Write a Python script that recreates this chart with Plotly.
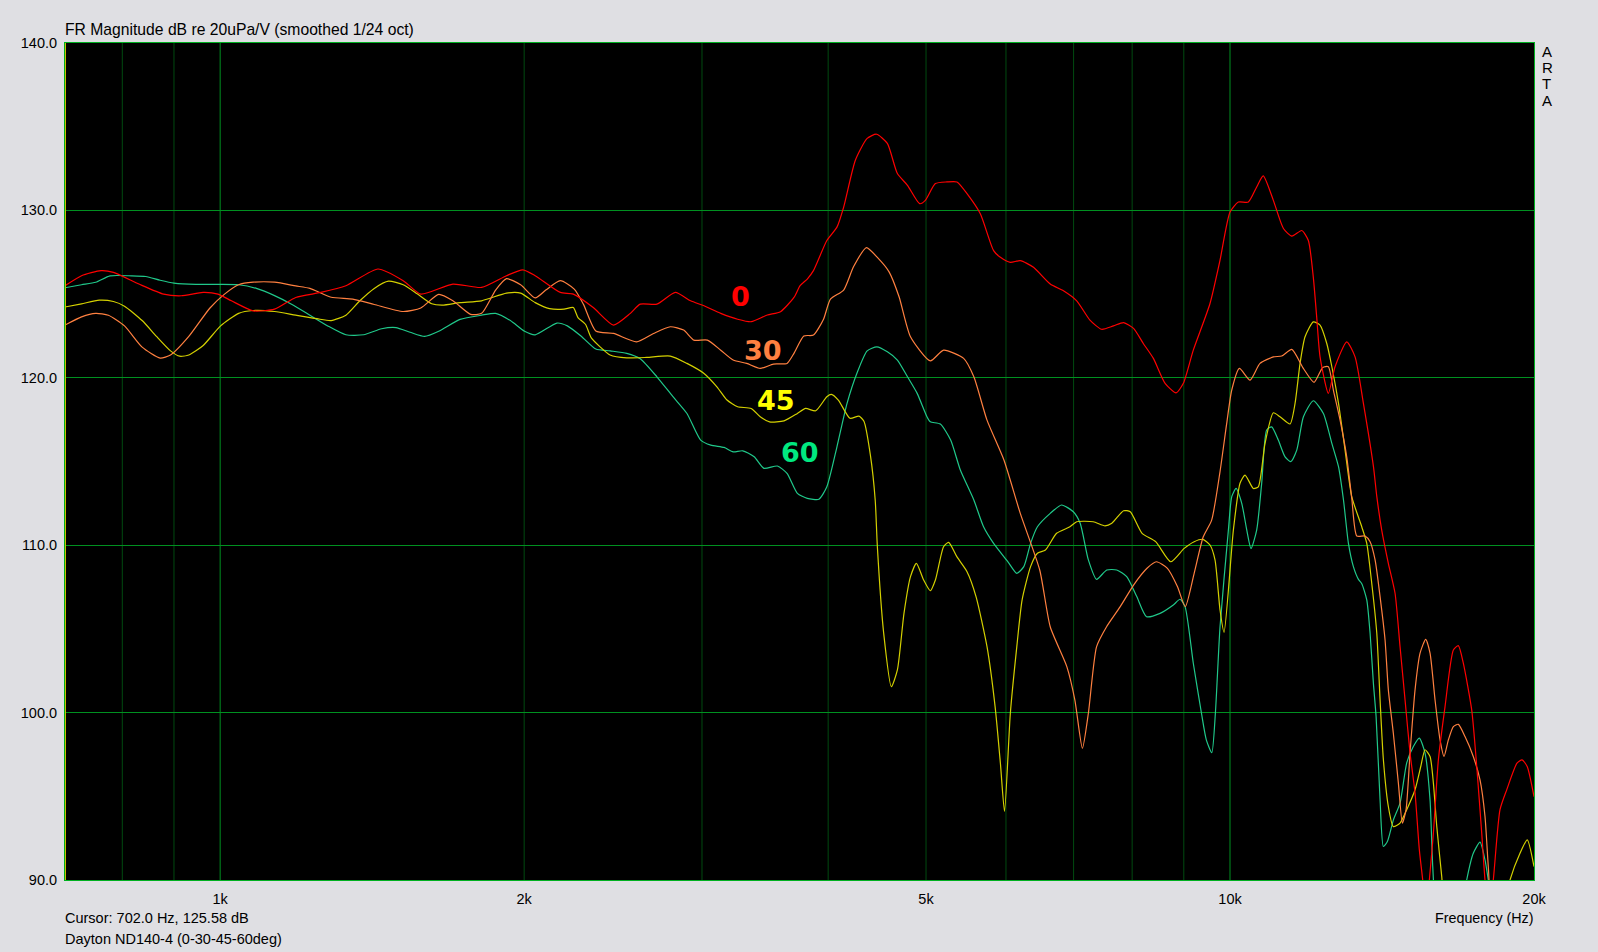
import numpy as np
import plotly.graph_objects as go

# ---------------- data (Hz, dB) ----------------
red_f = [702,729,762,784,831,879,915,962,995,1026,1078,1132,1188,1258,1332,1433,1518,1580,1700,1815,1921,1994,2051,2172,2237,2341,2452,2548,2606,2707,2823,2923,3014,3131,3254,3356,3482,3588,3700,3752,3814,3868,3988,4081,4144,4256,4372,4467,4578,4684,4793,4928,4992,5108,5245,5366,5490,5659,5833,5924,6060,6199,6388,6637,6840,7050,7266,7461,7667,7845,8026,8206,8397,8624,8843,8991,9197,9554,9775,10000,10192,10427,10627,10787,11039,11295,11514,11777,11956,12092,12185,12279,12514,12706,13049,13300,13555,13869,13976,14133,14348,14569,14736,14905,15076,15249,15399,15518,15636,15754,15900,16082,16328,16641,16831,17023,17352,17552,17753,17886,18050,18227,18508,18797,19239,19464,19692,20000]
red_db = [125.5,126.1,126.4,126.3,125.6,125.0,124.9,125.1,125.0,124.6,124.0,124.1,124.8,125.1,125.5,126.5,125.8,125.0,125.6,125.4,126.1,126.45,126.1,125.1,125.0,124.2,123.15,123.85,124.4,124.4,125.1,124.6,124.3,123.85,123.5,123.35,123.75,123.95,124.8,125.5,125.9,126.4,128.2,129.0,130.2,133.0,134.3,134.55,134.0,132.2,131.5,130.4,130.6,131.6,131.7,131.7,131.0,129.8,127.6,127.2,126.9,127.0,126.6,125.6,125.2,124.6,123.45,122.9,123.1,123.3,122.95,122.05,121.16,119.67,119.1,119.67,121.65,124.44,127.03,129.9,130.5,130.5,131.4,132.06,130.6,128.92,128.46,128.8,128.2,126.0,123.64,121.25,119.07,120.66,122.15,121.25,118.47,114.69,112.9,110.9,108.92,107.13,103.94,100.76,97.58,95.19,91.8,90.0,88.0,90.0,92.8,97.18,100.36,103.74,104.0,102.95,100.16,96.78,92.8,90.0,88.0,90.0,94.2,95.4,96.98,97.18,96.78,94.98]

orange_f = [702,729,753,775,804,837,872,893,931,977,1010,1043,1078,1132,1188,1227,1288,1353,1421,1518,1580,1646,1700,1770,1815,1874,1921,1984,2051,2101,2172,2242,2289,2355,2452,2584,2686,2791,2877,2945,3037,3131,3221,3322,3426,3531,3642,3700,3784,3868,3958,4021,4144,4238,4365,4470,4596,4702,4826,5049,5204,5448,5576,5746,5972,6199,6480,6637,6893,7020,7142,7240,7377,7547,7786,8026,8276,8455,8670,8872,9030,9215,9408,9590,9775,9925,10040,10216,10467,10708,11039,11251,11514,11820,12112,12355,12514,12658,12853,13049,13200,13353,13607,13763,13921,14080,14241,14348,14512,14680,14815,14939,15076,15249,15424,15625,15779,15960,16143,16291,16453,16641,16831,17089,17414,17684,17886,18021,18173,19000,20000]
orange_db = [123.15,123.64,123.85,123.74,123.1,121.83,121.18,121.36,122.47,124.17,125.0,125.56,125.71,125.71,125.49,125.34,124.81,124.7,124.38,123.96,124.17,124.98,124.6,123.79,123.85,125.24,125.92,125.56,124.77,125.24,125.8,125.3,124.4,122.8,122.65,122.15,122.65,123.05,122.85,122.25,122.25,121.65,121.06,120.86,120.56,120.82,120.86,121.46,122.5,122.55,123.5,124.7,125.24,126.63,127.78,127.22,126.33,124.84,122.45,121.01,121.65,121.16,120.06,117.47,115.09,111.9,108.52,105.13,102.75,100.76,97.87,99.96,103.94,105.13,106.33,107.62,108.62,109.01,108.62,107.52,106.33,108.32,110.5,111.5,114.4,117.28,119.27,120.56,119.86,120.86,121.25,121.3,121.7,120.56,119.73,120.62,120.66,119.27,117.47,115.28,112.8,110.55,110.55,110.21,109.12,106.93,104.34,101.36,98.77,95.79,93.4,94.2,97.58,101.36,103.55,104.38,103.55,100.76,98.37,97.38,98.37,99.16,99.3,98.57,97.38,95.98,93.79,90.8,88.5,87.0,87.0]

yellow_f = [702,729,759,784,804,837,865,893,912,931,962,1001,1043,1078,1132,1188,1247,1288,1332,1375,1421,1468,1518,1567,1620,1660,1728,1815,1921,1984,2051,2119,2190,2237,2261,2300,2330,2378,2433,2527,2645,2791,2899,3014,3104,3176,3254,3356,3426,3500,3617,3729,3799,3888,3988,4029,4094,4204,4291,4340,4404,4453,4475,4540,4620,4684,4755,4826,4892,4973,5049,5108,5204,5265,5366,5490,5604,5746,5853,5924,5980,6060,6150,6225,6346,6446,6565,6734,6942,7050,7321,7520,7638,7845,7966,8183,8441,8735,9008,9215,9399,9554,9664,9775,9865,10077,10231,10349,10546,10667,10831,11039,11208,11467,11599,11732,11866,12092,12279,12469,12614,12807,13000,13199,13504,13659,13815,13975,14080,14187,14348,14512,14736,14962,15249,15449,15600,15779,15900,16024,16206,16328,17500,18700,18935,19371,19695,20000]
yellow_db = [124.23,124.42,124.64,124.56,124.28,123.42,122.47,121.61,121.29,121.36,121.93,123.1,123.85,124.02,123.96,123.74,123.53,123.42,123.74,124.6,125.34,125.77,125.56,125.02,124.42,124.34,124.49,124.6,125.06,125.06,124.49,124.13,124.1,124.2,123.6,123.2,122.4,121.85,121.36,121.19,121.22,121.3,120.86,120.26,119.46,118.67,118.27,118.17,117.67,117.37,117.43,117.87,118.17,118.03,118.87,119.01,118.67,117.58,117.71,117.4,115.4,112.7,109.9,104.74,101.55,102.55,105.93,108.12,108.92,107.92,107.28,107.92,109.91,110.17,109.3,108.42,106.93,103.94,100.36,96.98,94.1,99.96,103.94,106.73,108.72,109.52,109.71,110.71,111.1,111.4,111.4,111.16,111.31,112.06,112.0,110.71,110.21,109.01,109.81,110.21,110.35,110.01,109.12,106.13,104.8,110.9,113.7,114.19,113.39,113.49,116.08,117.91,117.67,117.24,118.47,120.86,122.45,123.34,123.15,122.05,120.66,118.47,115.68,112.9,111.1,110.11,107.73,104.74,100.76,97.18,94.39,93.19,93.4,94.2,95.39,96.78,97.78,97.38,95.79,93.19,90.2,88.5,87.0,88.5,90.0,91.6,92.4,90.8]

green_f = [702,729,753,778,817,844,872,900,946,995,1043,1086,1132,1178,1227,1278,1332,1387,1445,1493,1542,1594,1646,1728,1815,1874,1938,2002,2051,2155,2207,2279,2355,2433,2527,2606,2707,2808,2899,2991,3061,3155,3221,3292,3379,3455,3563,3642,3729,3814,3916,3988,4081,4176,4273,4372,4470,4578,4684,4793,4900,5011,5049,5166,5289,5407,5576,5701,5833,6027,6150,6249,6346,6446,6637,6810,6996,7106,7240,7377,7550,7724,7902,8085,8267,8526,8787,8923,9026,9197,9370,9474,9593,9672,9775,9963,10040,10139,10271,10390,10490,10627,10749,10872,10997,11164,11338,11486,11644,11822,12092,12373,12614,12807,12953,13100,13249,13402,13505,13659,13763,13867,13953,14080,14187,14317,14512,14736,14962,15190,15400,15600,15779,15877,16000,16600,17000,17154,17414,17684,17886,18021,18173,20000]
green_db = [125.38,125.56,125.71,126.09,126.09,126.05,125.83,125.66,125.58,125.58,125.56,125.34,124.91,124.38,123.74,123.1,122.57,122.57,122.93,123.0,122.72,122.47,122.78,123.49,123.74,123.85,123.42,122.78,122.57,123.27,123.1,122.47,121.72,121.61,121.46,121.14,120.06,118.87,117.87,116.28,115.98,115.84,115.58,115.64,115.28,114.59,114.73,114.29,113.1,112.8,112.74,113.49,115.88,118.47,120.3,121.61,121.85,121.55,121.06,120.06,119.07,117.67,117.37,117.24,116.28,114.49,112.7,111.1,110.11,109.01,108.32,108.72,110.11,111.1,111.9,112.4,112.0,111.31,109.12,107.96,108.52,108.52,108.12,106.93,105.73,105.93,106.43,106.77,106.33,102.95,99.96,98.37,97.61,99.96,105.13,110.9,112.9,113.39,112.5,110.9,109.8,110.9,113.7,116.88,117.07,116.28,115.28,114.99,115.68,117.67,118.63,117.87,116.08,114.69,112.7,110.11,108.72,107.96,107.7,106.73,104.74,101.76,99.76,94.79,92.0,92.3,93.58,94.59,97.0,97.97,98.47,97.58,94.79,90.8,88.5,87.0,88.5,90.0,91.6,92.26,91.2,90.0,88.5,87.0]

angle_labels = ["0", "30", "45", "60"]
label_f = [3272, 3450, 3552, 3752]
label_db = [124.84, 121.65, 118.63, 115.52]

x_tick_vals = [1000, 2000, 5000, 10000, 20000]
x_tick_text = ["1k", "2k", "5k", "10k", "20k"]
grid_dark_f = [800, 900, 2000, 3000, 4000, 5000, 6000, 7000, 8000, 9000]
grid_bright_f = [1000, 10000]
cursor_f = 702.0
brand_letters = ["A", "R", "T", "A"]

# ---------------- styling ----------------
BG = "#DFDFE3"
FONT = "Liberation Sans, Arial, sans-serif"
line_colors = ["#FF0000", "#FF8040", "#D4D000", "#20C88A"]
label_colors = ["#FF0000", "#FF8040", "#FFFF00", "#00E880"]

fig = go.Figure()
series = [(green_f, green_db, 3), (yellow_f, yellow_db, 2), (orange_f, orange_db, 1), (red_f, red_db, 0)]
for f, d, i in series:
    fig.add_trace(go.Scatter(x=f, y=d, mode="lines",
                             line=dict(color=line_colors[i], width=1.2, shape="spline", smoothing=0.6),
                             hoverinfo="skip", showlegend=False))

shapes = []
for g in grid_dark_f:
    shapes.append(dict(type="line", xref="x", yref="paper", x0=g, x1=g, y0=0, y1=1,
                       line=dict(color="#004A10", width=1), layer="below"))
for g in grid_bright_f:
    shapes.append(dict(type="line", xref="x", yref="paper", x0=g, x1=g, y0=0, y1=1,
                       line=dict(color="#009020", width=1), layer="below"))
shapes.append(dict(type="line", xref="x", yref="paper", x0=cursor_f, x1=cursor_f, y0=0, y1=1,
                   line=dict(color="#C8C000", width=2), layer="above"))

annotations = []
for t, f, d, c in zip(angle_labels, label_f, label_db, label_colors):
    annotations.append(dict(x=np.log10(f), y=d, xref="x", yref="y", text="<b>%s</b>" % t,
                            showarrow=False, font=dict(family="DejaVu Sans, Verdana, sans-serif",
                                                        size=27, color=c)))
for k, ch in enumerate(brand_letters):
    annotations.append(dict(x=1, y=1, xref="paper", yref="paper", xanchor="left", yanchor="middle",
                            xshift=6, yshift=-8 - 16.4 * k, text=ch, showarrow=False,
                            font=dict(family=FONT, size=15, color="#000")))
annotations += [
    dict(x=0, y=1, xref="paper", yref="paper", xanchor="left", yanchor="bottom", yshift=3, xshift=-2,
         text="FR Magnitude dB re 20uPa/V (smoothed 1/24 oct)", showarrow=False,
         font=dict(family=FONT, size=15.7, color="#000")),
    dict(x=1, y=0, xref="paper", yref="paper", xanchor="right", yanchor="middle", yshift=-38, xshift=2,
         text="Frequency (Hz)", showarrow=False, font=dict(family=FONT, size=14.3, color="#000")),
    dict(x=0, y=0, xref="paper", yref="paper", xanchor="left", yanchor="middle", yshift=-38, xshift=-2,
         text="Cursor: 702.0 Hz, 125.58 dB", showarrow=False, font=dict(family=FONT, size=14.5, color="#000")),
    dict(x=0, y=0, xref="paper", yref="paper", xanchor="left", yanchor="middle", yshift=-59, xshift=-2,
         text="Dayton ND140-4 (0-30-45-60deg)", showarrow=False, font=dict(family=FONT, size=14.5, color="#000")),
]

fig.update_layout(
    width=1598, height=952, autosize=False,
    margin=dict(l=65, r=64, t=43, b=72, pad=0),
    paper_bgcolor=BG, plot_bgcolor="#000000",
    shapes=shapes, annotations=annotations,
    xaxis=dict(type="log", range=[np.log10(702), np.log10(20000)],
               tickvals=x_tick_vals, ticktext=x_tick_text, showgrid=False, zeroline=False,
               showline=True, linecolor="#00B020", linewidth=1, mirror=True,
               ticks="", ticklabelstandoff=6,
               tickfont=dict(family=FONT, size=14.5, color="#000")),
    yaxis=dict(range=[90, 140], dtick=10, tick0=90, tickformat=".1f",
               showgrid=True, gridcolor="#009020", gridwidth=1, zeroline=False,
               showline=True, linecolor="#00B020", linewidth=1, mirror=True,
               ticks="", ticklabelstandoff=4,
               tickfont=dict(family=FONT, size=14.5, color="#000")),
)

fig.write_html("out.html", config={"displayModeBar": False},
               post_script="document.body.style.margin='0';document.body.style.overflow='hidden';")
